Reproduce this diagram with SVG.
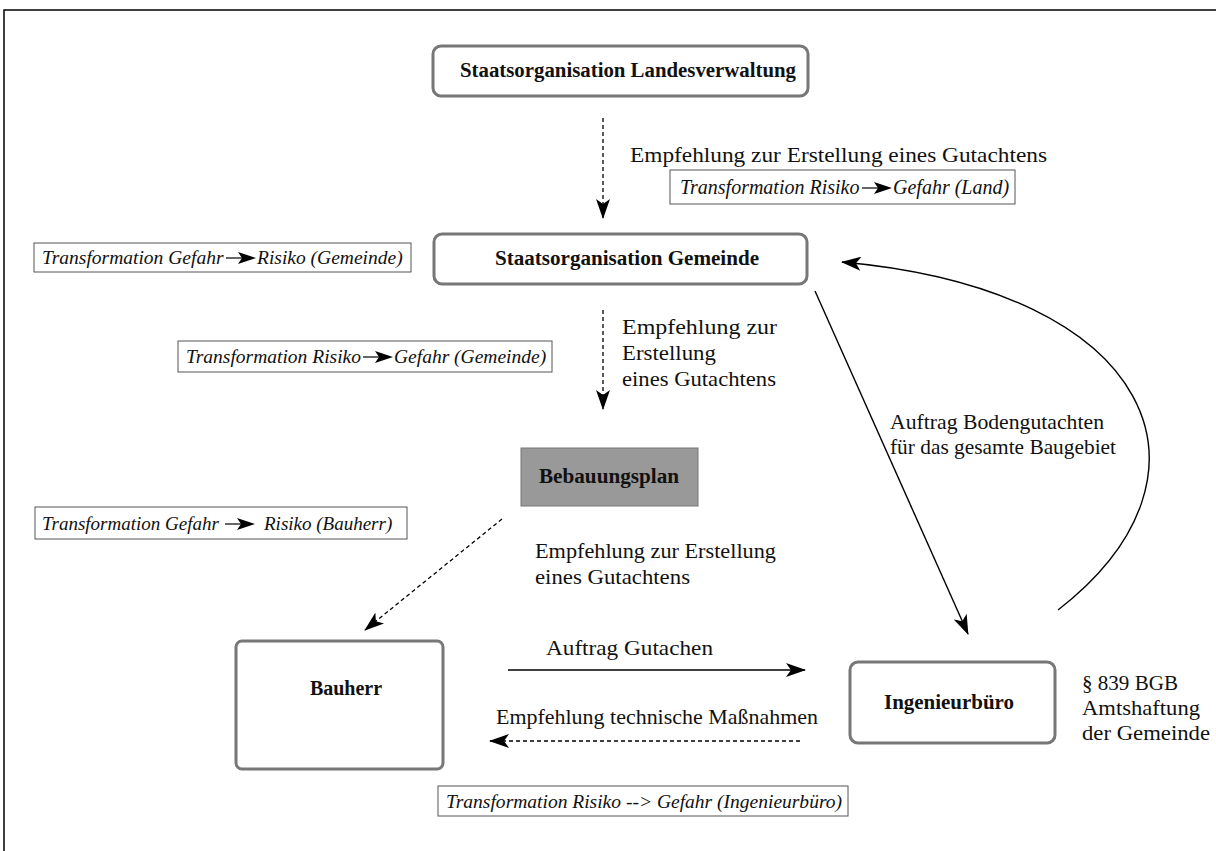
<svg xmlns="http://www.w3.org/2000/svg" width="1216" height="851" viewBox="0 0 1216 851">
<defs>
<style>
.node{fill:#fff;stroke:#777;stroke-width:3}
.nl{font-family:"Liberation Serif","DejaVu Serif",serif;font-weight:bold;font-size:20px;fill:#111;text-anchor:middle}
.lb{font-family:"Liberation Serif","DejaVu Serif",serif;font-size:21px;fill:#111}
.it{font-family:"Liberation Serif","DejaVu Serif",serif;font-style:italic;font-size:19.5px;fill:#111}
.tb{fill:#fff;stroke:#555;stroke-width:1}
.solid{fill:none;stroke:#000;stroke-width:1.4}
.dash{fill:none;stroke:#000;stroke-width:1.3;stroke-dasharray:4 3}
.ia{stroke:#000;stroke-width:1.2}
</style>
<marker id="ah" viewBox="0 0 20 14" refX="19" refY="7" markerWidth="20" markerHeight="14" markerUnits="userSpaceOnUse" orient="auto">
<path d="M0,0 L20,7 L0,14 L5,7 z" fill="#000"/>
</marker>
</defs>
<rect x="4" y="10" width="1230" height="860" fill="none" stroke="#000" stroke-width="1.5"/>

<g id="connectors">
<line class="dash" x1="603" y1="118" x2="603" y2="218" marker-end="url(#ah)"/>
<line class="dash" x1="603" y1="310" x2="603" y2="409" marker-end="url(#ah)"/>
<line class="dash" x1="502" y1="519" x2="365" y2="630" marker-end="url(#ah)"/>
<line class="solid" x1="815" y1="291" x2="968" y2="634" marker-end="url(#ah)"/>
<path class="solid" d="M1058,610 C1232,475 1155,290 842,262" marker-end="url(#ah)"/>
<line class="solid" x1="508" y1="670" x2="805" y2="670" marker-end="url(#ah)"/>
<line class="dash" x1="800" y1="741" x2="490" y2="741" marker-end="url(#ah)"/>
</g>

<g id="node-landesverwaltung">
<rect class="node" x="433" y="46" width="375" height="50" rx="8"/>
<text class="nl" x="628" y="77" textLength="336" lengthAdjust="spacingAndGlyphs">Staatsorganisation Landesverwaltung</text>
</g>
<g id="node-gemeinde">
<rect class="node" x="434" y="234" width="373" height="50" rx="8"/>
<text class="nl" x="627" y="265" textLength="264" lengthAdjust="spacingAndGlyphs">Staatsorganisation Gemeinde</text>
</g>
<g id="node-bebauungsplan">
<rect x="521" y="448" width="177" height="58" fill="#999" stroke="#777" stroke-width="1"/>
<text class="nl" x="609" y="483" textLength="140" lengthAdjust="spacingAndGlyphs">Bebauungsplan</text>
</g>
<g id="node-bauherr">
<rect class="node" x="236" y="641" width="207" height="128" rx="6"/>
<text class="nl" x="346" y="695">Bauherr</text>
</g>
<g id="node-ingenieurbuero">
<rect class="node" x="850" y="662" width="205" height="81" rx="8"/>
<text class="nl" x="949" y="709" textLength="130" lengthAdjust="spacingAndGlyphs">Ingenieurbüro</text>
</g>

<g id="labels">
<text class="lb" x="630" y="162" textLength="417" lengthAdjust="spacingAndGlyphs">Empfehlung zur Erstellung eines Gutachtens</text>
<text class="lb" x="622" y="334" textLength="155" lengthAdjust="spacingAndGlyphs">Empfehlung zur</text>
<text class="lb" x="622" y="360" textLength="94" lengthAdjust="spacingAndGlyphs">Erstellung</text>
<text class="lb" x="622" y="386" textLength="154" lengthAdjust="spacingAndGlyphs">eines Gutachtens</text>
<text class="lb" x="535" y="558" textLength="241" lengthAdjust="spacingAndGlyphs">Empfehlung zur Erstellung</text>
<text class="lb" x="535" y="584" textLength="155" lengthAdjust="spacingAndGlyphs">eines Gutachtens</text>
<text class="lb" x="890" y="429" textLength="214" lengthAdjust="spacingAndGlyphs">Auftrag Bodengutachten</text>
<text class="lb" x="890" y="454" textLength="226" lengthAdjust="spacingAndGlyphs">für das gesamte Baugebiet</text>
<text class="lb" x="546" y="655" textLength="167" lengthAdjust="spacingAndGlyphs">Auftrag Gutachen</text>
<text class="lb" x="496" y="724" textLength="322" lengthAdjust="spacingAndGlyphs">Empfehlung technische Maßnahmen</text>
<text class="lb" x="1082" y="690" textLength="96" lengthAdjust="spacingAndGlyphs">§ 839 BGB</text>
<text class="lb" x="1082" y="715" textLength="118" lengthAdjust="spacingAndGlyphs">Amtshaftung</text>
<text class="lb" x="1082" y="740" textLength="128" lengthAdjust="spacingAndGlyphs">der Gemeinde</text>
</g>

<g id="box-land">
<rect class="tb" x="670" y="170" width="345" height="34"/>
<text class="it" x="680" y="194" style="font-size:20px">Transformation Risiko</text>
<line class="ia" x1="862" y1="188" x2="880" y2="188"/>
<path d="M874,182 L892,188 L874,194 L878,188 z" fill="#000"/>
<text class="it" x="893" y="194" style="font-size:20px">Gefahr (Land)</text>
</g>
<g id="box-gemeinde-gr">
<rect class="tb" x="34" y="243" width="377" height="29"/>
<text class="it" x="42" y="264">Transformation Gefahr</text>
<line class="ia" x1="226" y1="258" x2="244" y2="258"/>
<path d="M238,252 L256,258 L238,264 L242,258 z" fill="#000"/>
<text class="it" x="257" y="264">Risiko (Gemeinde)</text>
</g>
<g id="box-gemeinde-rg">
<rect class="tb" x="178" y="341" width="374" height="31"/>
<text class="it" x="186" y="363">Transformation Risiko</text>
<line class="ia" x1="363" y1="357" x2="381" y2="357"/>
<path d="M375,351 L393,357 L375,363 L379,357 z" fill="#000"/>
<text class="it" x="394" y="363">Gefahr (Gemeinde)</text>
</g>
<g id="box-bauherr">
<rect class="tb" x="35" y="507" width="372" height="32"/>
<text class="it" x="42" y="530" style="font-size:19px">Transformation Gefahr</text>
<line class="ia" x1="225" y1="524" x2="243" y2="524"/>
<path d="M237,518 L255,524 L237,530 L241,524 z" fill="#000"/>
<text class="it" x="264" y="530" style="font-size:19px">Risiko (Bauherr)</text>
</g>
<g id="box-ingenieur">
<rect class="tb" x="438" y="786" width="410" height="30"/>
<text class="it" x="446" y="808" textLength="396" lengthAdjust="spacingAndGlyphs">Transformation Risiko --&gt; Gefahr (Ingenieurbüro)</text>
</g>
</svg>
